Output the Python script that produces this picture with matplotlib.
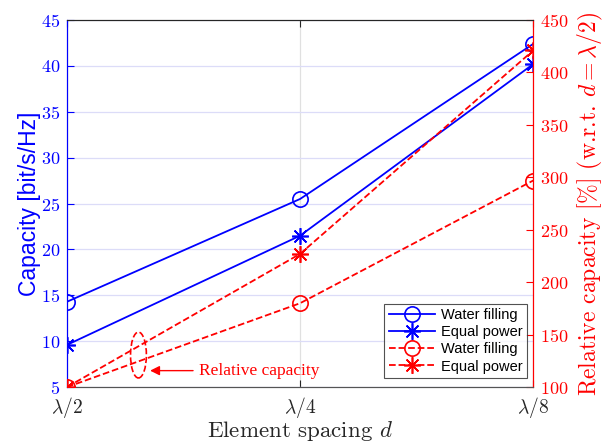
import matplotlib
matplotlib.use('Agg')
import matplotlib.pyplot as plt
from matplotlib.patches import Ellipse

plt.rcParams['font.family'] = 'serif'
plt.rcParams['font.serif'] = ['cmr10']
plt.rcParams['mathtext.fontset'] = 'cm'
plt.rcParams['axes.formatter.use_mathtext'] = True

spacing_labels = [r'$\lambda/2$', r'$\lambda/4$', r'$\lambda/8$']
cap_water = [14.3, 25.5, 42.4]
cap_equal = [9.6, 21.5, 40.2]
rel_water = [100, 180, 297]
rel_equal = [100, 227, 421]

x = [1, 2, 3]
blue = '#0000ff'
red = '#ff0000'
star = (8, 2, 0)  # matlab-style asterisk

fig = plt.figure(figsize=(6.08, 4.45), dpi=100)
ax = fig.add_axes([0.110, 0.130, 0.767, 0.825])
ax2 = ax.twinx()

l1, = ax.plot(x, cap_water, '-', marker='o', color=blue, lw=1.3, ms=11, mfc='none', mew=1.2, zorder=5)
l2, = ax.plot(x, cap_equal, '-', marker=star, color=blue, lw=1.3, ms=12, mew=1.2, zorder=5)
l3, = ax2.plot(x, rel_water, '--', marker='o', color=red, lw=1.3, ms=11, mfc='none', mew=1.2, zorder=5)
l4, = ax2.plot(x, rel_equal, '--', marker=star, color=red, lw=1.3, ms=12, mew=1.2, zorder=5)

ax.set_xlim(1, 3)
ax.set_ylim(5, 45)
ax.set_yticks(range(5, 50, 5))
ax2.set_ylim(100, 450)
ax2.set_yticks(range(100, 500, 50))
ax.set_xticks(x)
ax.set_xticklabels(spacing_labels)

ax.yaxis.grid(True, color='#dcdcf8', lw=0.9)
ax.xaxis.grid(True, color='#e0e0e0', lw=0.9)
ax.set_axisbelow(True)

ax.tick_params(axis='y', colors=blue, direction='in', labelsize=13, length=5, pad=5)
ax.tick_params(axis='x', colors='#262626', direction='in', labelsize=14, length=5, top=True, pad=6)
ax2.tick_params(axis='y', colors=red, direction='in', labelsize=13, length=5, pad=5)

for a in (ax, ax2):
    a.spines['left'].set_color(blue)
    a.spines['right'].set_color(red)
    a.spines['top'].set_color('#262626')
    a.spines['bottom'].set_color('#555555')

ax.set_ylabel('Capacity [bit/s/Hz]', color=blue, fontsize=16.5, family='Liberation Sans', labelpad=0)
ax2.set_ylabel(r'Relative capacity [%] (w.r.t. $d=\lambda/2$)', color=red, fontsize=17, labelpad=5)
ax.set_xlabel(r'Element spacing $d$', fontsize=16.5, color='#262626', labelpad=-1)

ax.add_patch(Ellipse((1.307, 8.5), 0.068, 5.0, fill=False, ls='--', color=red, lw=1.2))
ax.annotate('Relative capacity', xy=(1.345, 6.8), xytext=(1.565, 6.8),
            color=red, fontsize=12.5, family='Liberation Serif', va='center',
            arrowprops=dict(arrowstyle='-|>', color=red, lw=1.0, mutation_scale=14))

leg = ax2.legend([l1, l2, l3, l4], ['Water filling', 'Equal power', 'Water filling', 'Equal power'],
                 loc='lower right', bbox_to_anchor=(0.987, 0.025), fancybox=False, edgecolor='#262626',
                 prop={'family': 'Liberation Sans', 'size': 10.5}, handlelength=3.2,
                 borderpad=0.3, labelspacing=0.22, handletextpad=0.4, borderaxespad=0)
leg.get_frame().set_linewidth(0.8)

fig.savefig('out.png', dpi=100)
